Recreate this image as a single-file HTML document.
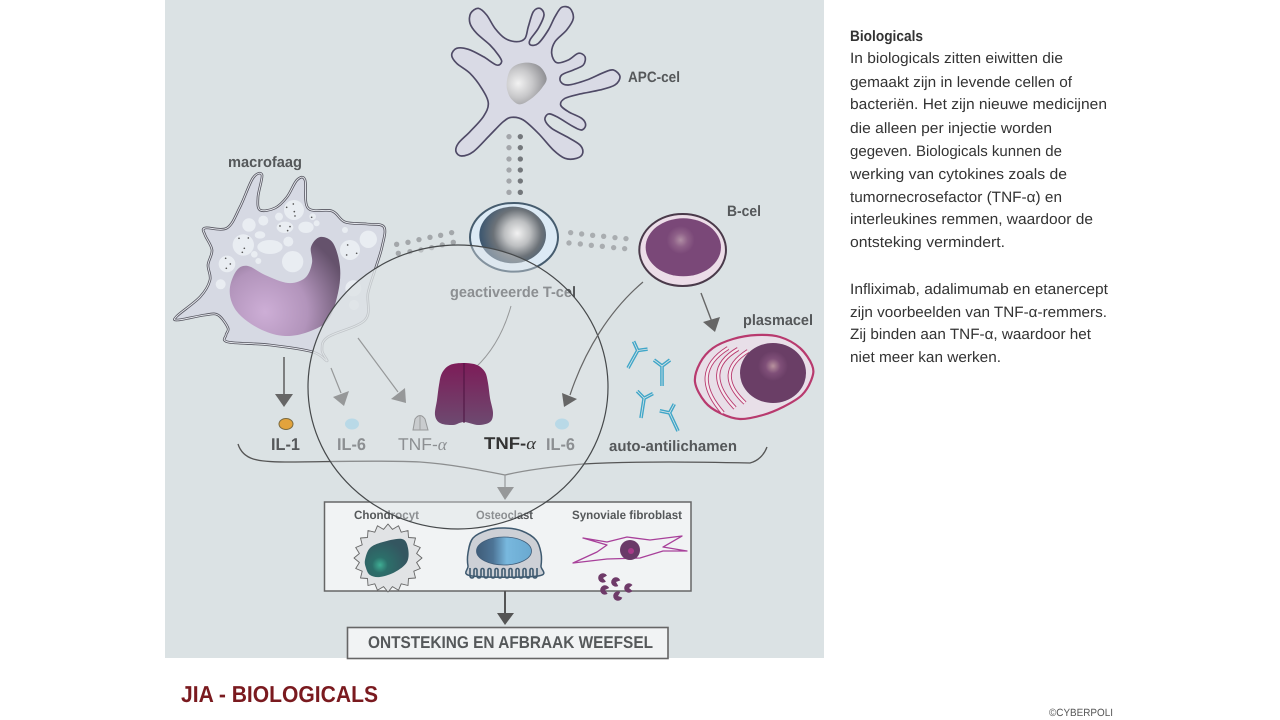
<!DOCTYPE html>
<html lang="nl">
<head>
<meta charset="utf-8">
<title>JIA - Biologicals</title>
<style>
html,body{margin:0;padding:0;background:#fff;width:1280px;height:720px;overflow:hidden}
svg{display:block}
text{font-family:"Liberation Sans",sans-serif;text-rendering:geometricPrecision}
.b{font-weight:bold}
.p{font-size:15px;fill:#333}
.l{font-size:15px;font-weight:bold;fill:#55585a}
.ar{stroke:#666;fill:none}
.hd{fill:#666}
</style>
</head>
<body>
<svg xmlns="http://www.w3.org/2000/svg" width="1280" height="720" viewBox="0 0 1280 720">
<defs>
<radialGradient id="gN" gradientUnits="userSpaceOnUse" cx="265" cy="312" r="85"><stop offset="0" stop-color="#cdaed6"/><stop offset=".5" stop-color="#b294bb"/><stop offset="1" stop-color="#65526c"/></radialGradient>
<radialGradient id="gT" gradientUnits="userSpaceOnUse" cx="232" cy="700" r="110"><stop offset="0" stop-color="#f2f2f2"/><stop offset=".35" stop-color="#bdbfc1"/><stop offset=".65" stop-color="#6c7278"/><stop offset="1" stop-color="#3f5870"/></radialGradient>
<radialGradient id="gA" gradientUnits="userSpaceOnUse" cx="235" cy="250" r="85"><stop offset="0" stop-color="#f2f2f2"/><stop offset=".5" stop-color="#c8c8ca"/><stop offset="1" stop-color="#909094"/></radialGradient>
<radialGradient id="gB" gradientUnits="userSpaceOnUse" cx="722" cy="720" r="42"><stop offset="0" stop-color="#b08ea4"/><stop offset=".5" stop-color="#8e6088"/><stop offset="1" stop-color="#7a4878"/></radialGradient>
<radialGradient id="gP" gradientUnits="userSpaceOnUse" cx="773" cy="366" r="15"><stop offset="0" stop-color="#b8929e"/><stop offset=".5" stop-color="#7f4f78"/><stop offset="1" stop-color="#6a3e66"/></radialGradient>
<linearGradient id="gR" x1="0" y1="0" x2="0" y2="1"><stop offset="0" stop-color="#7d1c58"/><stop offset="1" stop-color="#6d4a70"/></linearGradient>
<radialGradient id="gC" gradientUnits="userSpaceOnUse" cx="380" cy="565" r="26"><stop offset="0" stop-color="#3fae94"/><stop offset=".3" stop-color="#2c6f6a"/><stop offset="1" stop-color="#345660"/></radialGradient>
<linearGradient id="gO" x1="0" y1="0" x2="1" y2="0"><stop offset="0" stop-color="#3f5c78"/><stop offset=".3" stop-color="#4d7496"/><stop offset=".55" stop-color="#78b8de"/><stop offset="1" stop-color="#6aa9d0"/></linearGradient>
<g id="pac"><path d="M3.5-3A4.7 4.7 0 1 0 3.5 3L0 0Z" fill="#6e3a68"/></g>
<g id="ab"><path d="M0 0V-20M0-20L-8-26M0-20L8-26" fill="none" stroke="#3fa6c8" stroke-width="3.6"/><path d="M0 0V-20M0-20L-8-26M0-20L8-26" fill="none" stroke="#dde4e6" stroke-width=".8"/></g>
</defs>

<rect x="165" y="0" width="659" height="658" fill="#dbe2e4"/>

<!-- macrofaag -->
<path class="sm" d="M205 228L227 228L240 207L253 178L262 175L258 197L260 210L275 208L287 197L297 180L305 180L308 208L332 211L345 222L367 224L384 227L382 247L375 270L368 293L365 320L328 337L322 350L327 361L313 352L270 345L228 342L226 335L228 328L218 315L205 315L178 320L177 316L200 297L210 280L208 265L212 250L205 235Z" fill="#d6d9e3" stroke="#55555f" stroke-width="2.6"/>
<path class="sm" d="M205 228L227 228L240 207L253 178L262 175L258 197L260 210L275 208L287 197L297 180L305 180L308 208L332 211L345 222L367 224L384 227L382 247L375 270L368 293L365 320L328 337L322 350L327 361L313 352L270 345L228 342L226 335L228 328L218 315L205 315L178 320L177 316L200 297L210 280L208 265L212 250L205 235Z" fill="none" stroke="#e4e6ec" stroke-width="1"/>
<g transform="translate(165 0) scale(.3333)" fill="#e9edf2">
<circle cx="387" cy="630" r="30"/><circle cx="295" cy="662" r="15"/><circle cx="342" cy="650" r="12"/><circle cx="252" cy="675" r="20"/><ellipse cx="360" cy="682" rx="25" ry="17"/><ellipse cx="423" cy="682" rx="23" ry="17"/><circle cx="443" cy="650" r="10"/><circle cx="455" cy="670" r="9"/><circle cx="540" cy="690" r="9"/><circle cx="610" cy="718" r="26"/><circle cx="555" cy="750" r="30"/><circle cx="235" cy="735" r="32"/><ellipse cx="285" cy="705" rx="16" ry="11"/><ellipse cx="315" cy="741" rx="38" ry="21"/><circle cx="370" cy="725" r="15"/><circle cx="383" cy="785" r="32"/><circle cx="268" cy="763" r="10"/><circle cx="280" cy="783" r="9"/><circle cx="186" cy="792" r="25"/><circle cx="167" cy="853" r="15"/><circle cx="565" cy="865" r="24"/><circle cx="567" cy="915" r="15"/>
<g fill="#555"><circle cx="385" cy="612" r="2.5"/><circle cx="365" cy="622" r="2.5"/><circle cx="388" cy="635" r="2.5"/><circle cx="390" cy="648" r="2.5"/><circle cx="345" cy="678" r="2.5"/><circle cx="375" cy="680" r="2.5"/><circle cx="368" cy="692" r="2.5"/><circle cx="222" cy="715" r="2.5"/><circle cx="250" cy="714" r="2.5"/><circle cx="238" cy="745" r="2.5"/><circle cx="232" cy="757" r="2.5"/><circle cx="182" cy="775" r="2.5"/><circle cx="196" cy="792" r="2.5"/><circle cx="184" cy="805" r="2.5"/><circle cx="548" cy="735" r="2.5"/><circle cx="575" cy="760" r="2.5"/><circle cx="545" cy="765" r="2.5"/><circle cx="440" cy="652" r="2.5"/></g>
</g>
<path class="sm" d="M230 287L237 270L248 266L265 275L288 283L305 278L312 263L311 247L320 237L333 243L340 267L338 293L328 320L308 332L285 336L262 330L242 317L232 303Z" fill="url(#gN)"/>
<!-- extra fade on macrophage inside the circle -->
<ellipse cx="458" cy="387" rx="150" ry="142" fill="#dde3e5" fill-opacity=".65"/>

<!-- APC, T-cel, B-cel -->
<g transform="translate(440 0) scale(.3333)">
<path class="sm" d="M195 115L165 85L140 45L115 25L92 40L90 70L110 100L150 135L175 165L185 185L170 195L130 170L85 148L50 145L35 165L50 190L90 220L125 265L145 310L130 350L90 395L55 430L48 455L65 468L100 455L150 405L190 365L215 352L250 360L295 400L340 450L375 475L410 475L428 460L420 435L380 410L335 385L315 360L325 342L350 350L400 380L425 390L437 375L425 355L385 335L362 315L375 295L420 282L480 270L525 255L540 230L520 210L490 218L440 240L385 255L362 245L365 225L400 210L430 195L435 170L415 160L385 180L350 188L335 160L345 125L380 90L400 55L390 25L365 22L345 50L325 90L295 130L272 135L270 120L295 85L312 45L300 25L280 35L265 80L255 115L230 125Z" fill="#d9dae5" stroke="#4f4a66" stroke-width="5"/>
<path class="sm" d="M200 250L208 215L228 195L265 188L300 200L320 235L305 265L275 295L240 313L215 298L203 275Z" fill="url(#gA)"/>
<g fill="#a3a6aa"><circle cx="207" cy="410" r="8"/><circle cx="207" cy="443" r="8"/><circle cx="207" cy="477" r="8"/><circle cx="207" cy="510" r="8"/><circle cx="207" cy="543" r="8"/><circle cx="207" cy="577" r="8"/></g>
<g fill="#73777b"><circle cx="241" cy="410" r="8"/><circle cx="241" cy="443" r="8"/><circle cx="241" cy="477" r="8"/><circle cx="241" cy="510" r="8"/><circle cx="241" cy="543" r="8"/><circle cx="241" cy="577" r="8"/></g>
<ellipse cx="222" cy="712" rx="132" ry="103" fill="#dceaf5" stroke="#465c6e" stroke-width="6"/>
<ellipse cx="218" cy="705" rx="100" ry="85" fill="url(#gT)"/>
<g fill="#a9adb0"><circle cx="392" cy="698" r="8"/><circle cx="425" cy="702" r="8"/><circle cx="458" cy="706" r="8"/><circle cx="491" cy="709" r="8"/><circle cx="525" cy="713" r="8"/><circle cx="558" cy="716" r="8"/><circle cx="387" cy="729" r="8"/><circle cx="421" cy="732" r="8"/><circle cx="454" cy="736" r="8"/><circle cx="487" cy="739" r="8"/><circle cx="521" cy="743" r="8"/><circle cx="554" cy="746" r="8"/></g>
<ellipse cx="728" cy="750" rx="130" ry="108" fill="#ecdde8" stroke="#4a3a4a" stroke-width="6"/>
<ellipse cx="730" cy="742" rx="113" ry="87" fill="#7a4878"/>
<ellipse cx="722" cy="720" rx="42" ry="42" fill="url(#gB)"/>
</g>
<g transform="translate(165 0) scale(.3333)" fill="#a3a7aa">
<circle cx="695" cy="733" r="8"/><circle cx="729" cy="727" r="8"/><circle cx="762" cy="719" r="8"/><circle cx="795" cy="712" r="8"/><circle cx="827" cy="706" r="8"/><circle cx="860" cy="698" r="8"/><circle cx="700" cy="760" r="8"/><circle cx="735" cy="755" r="8"/><circle cx="768" cy="750" r="8"/><circle cx="800" cy="743" r="8"/><circle cx="832" cy="735" r="8"/><circle cx="865" cy="727" r="8"/>
</g>

<!-- arrows under overlay -->
<path class="ar" d="M331 368L341 393" stroke-width="1.2"/><path class="hd" d="M333 397L349 391L344 406Z"/>
<path class="ar" d="M358 338L398 392" stroke-width="1.2"/><path class="hd" d="M391 399L405 388L406 403Z"/>
<path d="M511 306Q500 345 475 368" fill="none" stroke="#666" stroke-width="1"/>

<!-- molecules -->
<ellipse cx="352" cy="424" rx="7" ry="5.5" fill="#a0d2e8"/>
<ellipse cx="562" cy="424" rx="7" ry="5.5" fill="#a0d2e8"/>
<path d="M413 430L415 419Q420 412 425 419L428 430Z" fill="#bbbcbe" stroke="#666" stroke-width="1"/>
<path d="M420 415V430" stroke="#777" stroke-width="1"/>

<!-- labels under overlay -->
<text class="l" x="450" y="297" textLength="126" lengthAdjust="spacingAndGlyphs">geactiveerde T-cel</text>
<text class="l" x="337" y="450" style="font-size:17px" textLength="29" lengthAdjust="spacingAndGlyphs">IL-6</text>
<text class="l" x="546" y="450" style="font-size:17px" textLength="29" lengthAdjust="spacingAndGlyphs">IL-6</text>
<text class="l" x="398" y="450" style="font-size:17px;font-weight:normal" textLength="49" lengthAdjust="spacingAndGlyphs">TNF-<tspan style="font-family:'Liberation Serif',serif;font-style:italic">α</tspan></text>

<!-- brace -->
<path d="M238 444C243 460 258 462 285 462C320 462 380 460 420 462C450 464 480 470 505 475C530 469 560 466 583 464C640 461 700 462 750 463C758 461 764 455 767 447" fill="none" stroke="#555" stroke-width="1.3"/>
<path class="ar" d="M505 475V488" stroke-width="1.2"/><path class="hd" d="M497 487H514L505 500Z"/>

<!-- box -->
<rect x="324.5" y="502" width="366.5" height="89" fill="#f1f3f4" stroke="#666" stroke-width="1.5"/>
<text class="l" x="354" y="519" style="font-size:12px" textLength="65" lengthAdjust="spacingAndGlyphs">Chondrocyt</text>
<text class="l" x="476" y="519" style="font-size:12px" textLength="57" lengthAdjust="spacingAndGlyphs">Osteoclast</text>
<text class="l" x="572" y="519" style="font-size:12px" textLength="110" lengthAdjust="spacingAndGlyphs">Synoviale fibroblast</text>

<polygon points="422,558 416.6,562.5 420.3,568.5 413.8,571.2 415.5,578 408.5,578.5 408,585.5 401.2,583.8 398.5,590.3 392.5,586.6 388,592 383.5,586.6 377.5,590.3 374.8,583.8 368,585.5 367.5,578.5 360.5,578 362.2,571.2 355.7,568.5 359.4,562.5 354,558 359.4,553.5 355.7,547.5 362.2,544.8 360.5,538 367.5,537.5 368,530.5 374.8,532.2 377.5,525.7 383.5,529.4 388,524 392.5,529.4 398.5,525.7 401.2,532.2 408,530.5 408.5,537.5 415.5,538 413.8,544.8 420.3,547.5 416.6,553.5" fill="#e1e3e5" stroke="#666" stroke-width=".9" stroke-linejoin="round"/>
<path class="sm" d="M365 560L370 548L383 542L402 539L408 548L407 562L395 572L380 577L370 575L366 568Z" fill="url(#gC)"/>

<path class="sm" d="M468 553L473 538L488 530L505 528L522 531L536 540L541 553L541 566L538 576L472 576L468 566Z" fill="#cdd0d6" stroke="#3f5a70" stroke-width="1.5"/>
<ellipse cx="504" cy="551" rx="27.5" ry="14" fill="url(#gO)" stroke="#3f5c78" stroke-width=".8"/>
<path d="M470 568v8a2 2 0 0 0 4 0v-6a1.5 1.5 0 0 1 3 0v6a2 2 0 0 0 4 0v-6a1.5 1.5 0 0 1 3 0v6a2 2 0 0 0 4 0v-6a1.5 1.5 0 0 1 3 0v6a2 2 0 0 0 4 0v-6a1.5 1.5 0 0 1 3 0v6a2 2 0 0 0 4 0v-6a1.5 1.5 0 0 1 3 0v6a2 2 0 0 0 4 0v-6a1.5 1.5 0 0 1 3 0v6a2 2 0 0 0 4 0v-6a1.5 1.5 0 0 1 3 0v6a2 2 0 0 0 4 0v-6a1.5 1.5 0 0 1 3 0v6a2 2 0 0 0 4 0v-6a1.5 1.5 0 0 1 3 0v6a2 2 0 0 0 4 0v-8" fill="none" stroke="#3f5a70" stroke-width="1.6"/>

<path d="M583 538L607 542L627 537L650 540L682 536L663 547L687 551L663 551L640 558L607 559L573 563L597 552L607 545Z" fill="#f1f3f4" stroke="#a8409a" stroke-width="1.3" stroke-linejoin="round"/>
<circle cx="630" cy="550" r="10" fill="#6a3a68"/><circle cx="631" cy="551" r="3" fill="#a83a88"/>
<use href="#pac" transform="translate(603 578) rotate(10)"/>
<use href="#pac" transform="translate(616 582) rotate(20)"/>
<use href="#pac" transform="translate(629 588)"/>
<use href="#pac" transform="translate(618 596) rotate(-20)"/>
<use href="#pac" transform="translate(605 590) rotate(15)"/>

<!-- circle overlay -->
<ellipse cx="458" cy="387" rx="150" ry="142" fill="#dfe4e6" fill-opacity=".4"/>
<ellipse cx="458" cy="387" rx="150" ry="142" fill="none" stroke="#46494b" stroke-width="1.2"/>

<!-- receptor and items on top -->
<path class="sm" d="M464 363L450 365L442 373L439 385L437 400L435 415L440 423L453 425L464 422L478 425L490 422L493 413L490 398L488 383L485 372L477 365Z" fill="url(#gR)"/>
<path d="M464 363V423" stroke="#4c1240" stroke-width="1"/>
<text class="b" x="484" y="449" style="font-size:17px" fill="#333" textLength="52" lengthAdjust="spacingAndGlyphs">TNF-<tspan style="font-family:'Liberation Serif',serif;font-style:italic;font-weight:normal">α</tspan></text>
<path d="M643 282C610 310 585 350 570 395" fill="none" stroke="#666" stroke-width="1.2"/><path class="hd" d="M562 393L577 399L564 407Z"/>

<!-- IL-1 -->
<path class="ar" d="M284 357V395" stroke-width="1.6"/><path class="hd" d="M275 394H293L284 407Z"/>
<ellipse cx="286" cy="424" rx="7" ry="5.5" fill="#e2a33c" stroke="#7a6a40" stroke-width="1"/>
<text class="l" x="271" y="450" style="font-size:17px" textLength="29" lengthAdjust="spacingAndGlyphs">IL-1</text>

<!-- B to plasma -->
<path class="ar" d="M701 293L712 322" stroke-width="1.4"/><path class="hd" d="M703 322L720 317L715 332Z"/>

<!-- antibodies -->
<use href="#ab" transform="translate(628 368) rotate(29)"/>
<use href="#ab" transform="translate(662 386)"/>
<use href="#ab" transform="translate(641 418) rotate(9)"/>
<use href="#ab" transform="translate(678 431) rotate(-25)"/>

<!-- plasmacel -->
<path class="sm" d="M695 382L700 363L713 348L733 339L757 335L780 337L800 348L812 365L812 378L802 395L783 407L763 415L740 419L720 413L705 402Z" fill="#e8dfe8" stroke="#b83a6e" stroke-width="2.2"/>
<g fill="none"><path d="M728 348Q688 373 723 413M738 349Q700 371 735 408M748 351Q713 373 745 403" stroke="#b83a6e" stroke-width="4.2"/><path d="M728 348Q688 373 723 413M738 349Q700 371 735 408M748 351Q713 373 745 403" stroke="#f4e8ef" stroke-width="2.4"/></g>
<ellipse cx="773" cy="373" rx="33" ry="30" fill="#6a3e66"/>
<circle cx="773" cy="366" r="15" fill="url(#gP)"/>

<!-- bottom -->
<path d="M505 591V614" stroke="#555" stroke-width="2"/><path fill="#555" d="M497 613H514L505 625Z"/>
<rect x="347.5" y="627.5" width="320.5" height="31" fill="#f1f3f4" stroke="#666" stroke-width="1.6"/>
<text class="l" x="368" y="648" style="font-size:17px" textLength="285" lengthAdjust="spacingAndGlyphs">ONTSTEKING EN AFBRAAK WEEFSEL</text>

<!-- labels -->
<text class="l" x="228" y="167" textLength="74" lengthAdjust="spacingAndGlyphs">macrofaag</text>
<text class="l" x="628" y="82" textLength="52" lengthAdjust="spacingAndGlyphs">APC-cel</text>
<text class="l" x="727" y="216" textLength="34" lengthAdjust="spacingAndGlyphs">B-cel</text>
<text class="l" x="743" y="325" textLength="70" lengthAdjust="spacingAndGlyphs">plasmacel</text>
<text class="l" x="609" y="451" textLength="128" lengthAdjust="spacingAndGlyphs">auto-antilichamen</text>

<!-- right text -->
<text class="p b" x="850" y="41" textLength="73" lengthAdjust="spacingAndGlyphs">Biologicals</text>
<text class="p" x="850" y="63" textLength="213" lengthAdjust="spacingAndGlyphs">In biologicals zitten eiwitten die</text>
<text class="p" x="850" y="87" textLength="222" lengthAdjust="spacingAndGlyphs">gemaakt zijn in levende cellen of</text>
<text class="p" x="850" y="109" textLength="257" lengthAdjust="spacingAndGlyphs">bacteriën. Het zijn nieuwe medicijnen</text>
<text class="p" x="850" y="133" textLength="202" lengthAdjust="spacingAndGlyphs">die alleen per injectie worden</text>
<text class="p" x="850" y="156" textLength="212" lengthAdjust="spacingAndGlyphs">gegeven. Biologicals kunnen de</text>
<text class="p" x="850" y="179" textLength="217" lengthAdjust="spacingAndGlyphs">werking van cytokines zoals de</text>
<text class="p" x="850" y="202" textLength="212" lengthAdjust="spacingAndGlyphs">tumornecrosefactor (TNF-α) en</text>
<text class="p" x="850" y="224" textLength="243" lengthAdjust="spacingAndGlyphs">interleukines remmen, waardoor de</text>
<text class="p" x="850" y="247" textLength="155" lengthAdjust="spacingAndGlyphs">ontsteking vermindert.</text>
<text class="p" x="850" y="294" textLength="258" lengthAdjust="spacingAndGlyphs">Infliximab, adalimumab en etanercept</text>
<text class="p" x="850" y="317" textLength="257" lengthAdjust="spacingAndGlyphs">zijn voorbeelden van TNF-α-remmers.</text>
<text class="p" x="850" y="339" textLength="241" lengthAdjust="spacingAndGlyphs">Zij binden aan TNF-α, waardoor het</text>
<text class="p" x="850" y="362" textLength="151" lengthAdjust="spacingAndGlyphs">niet meer kan werken.</text>

<text class="b" x="181" y="702" style="font-size:23px" fill="#7a1a1f" textLength="197" lengthAdjust="spacingAndGlyphs">JIA - BIOLOGICALS</text>
<text x="1049" y="716" style="font-size:10.5px" fill="#555" textLength="64" lengthAdjust="spacingAndGlyphs">©CYBERPOLI</text>
</svg>
<script>
document.querySelectorAll('path.sm').forEach(function(p){
  var n=p.getAttribute('d').match(/-?[\d.]+/g).map(Number),a=[];
  for(var i=0;i<n.length;i+=2)a.push([n[i],n[i+1]]);
  var L=a.length,d='M'+a[0][0]+' '+a[0][1];
  for(i=0;i<L;i++){
    var p0=a[(i-1+L)%L],p1=a[i],p2=a[(i+1)%L],p3=a[(i+2)%L];
    d+='C'+(p1[0]+(p2[0]-p0[0])/6).toFixed(1)+' '+(p1[1]+(p2[1]-p0[1])/6).toFixed(1)+' '+(p2[0]-(p3[0]-p1[0])/6).toFixed(1)+' '+(p2[1]-(p3[1]-p1[1])/6).toFixed(1)+' '+p2[0]+' '+p2[1];
  }
  p.setAttribute('d',d+'Z');
});
</script>
</body>
</html>
